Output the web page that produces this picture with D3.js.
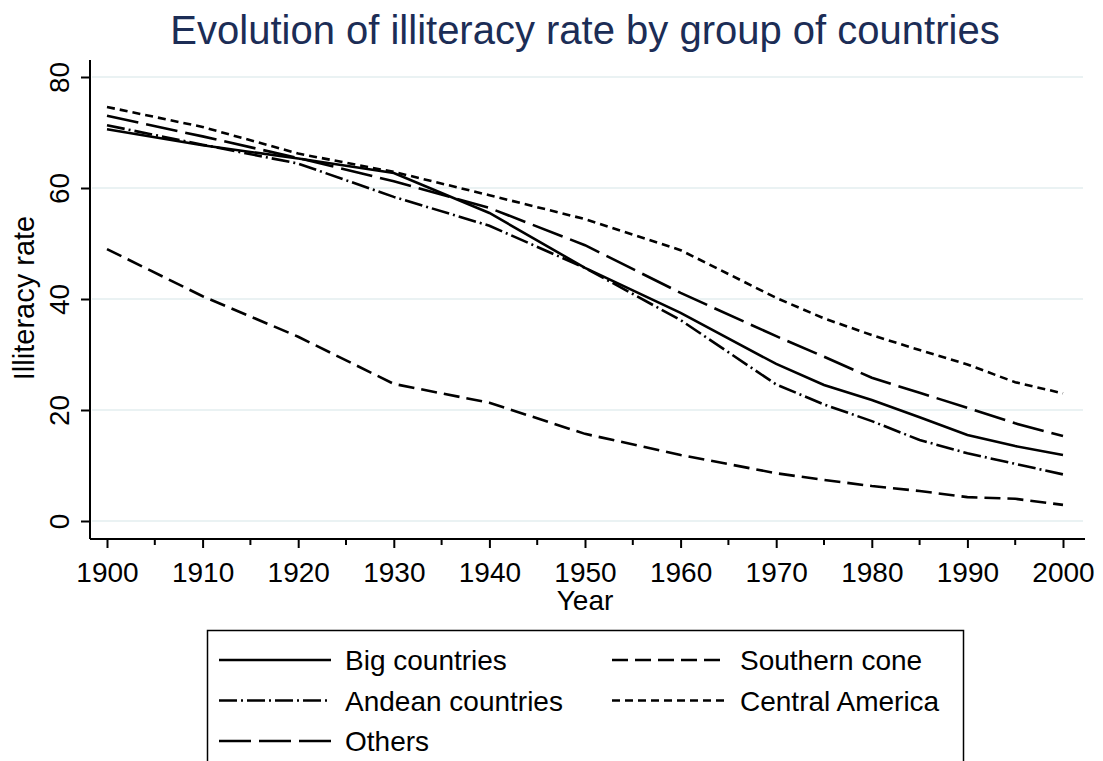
<!DOCTYPE html>
<html>
<head>
<meta charset="utf-8">
<script src="https://cdn.jsdelivr.net/npm/d3@7"></script>
<style>
  body { margin: 0; background: #fff; }
  svg { display: block; font-family: "Liberation Sans", Arial, sans-serif; }
</style>
</head>
<body>
<div id="chart"></div>
<script>
// data
const years = [1900, 1910, 1920, 1930, 1940, 1950, 1960, 1970, 1975, 1980, 1985, 1990, 1995, 2000];
const bigCountries = [70.6, 67.7, 65.3, 62.7, 55.5, 45.6, 37.5, 28.3, 24.5, 21.8, 18.7, 15.5, 13.5, 11.9];
const andeanCountries = [71.3, 67.8, 64.4, 58.4, 53.2, 45.6, 36.2, 24.6, 21.0, 18.0, 14.6, 12.2, 10.3, 8.4];
const others = [73.0, 69.3, 65.4, 61.2, 56.4, 49.7, 41.1, 33.3, 29.6, 25.8, 23.1, 20.4, 17.6, 15.3];
const southernCone = [49.0, 40.5, 33.2, 24.7, 21.3, 15.7, 11.9, 8.6, 7.4, 6.3, 5.4, 4.3, 4.0, 2.9];
const centralAmerica = [74.6, 71.0, 66.2, 62.9, 58.7, 54.4, 48.8, 40.2, 36.5, 33.5, 30.8, 28.2, 25.0, 23.0];
const xTicks = [1900, 1910, 1920, 1930, 1940, 1950, 1960, 1970, 1980, 1990, 2000];
const yTicks = [0, 20, 40, 60, 80];

const series = [
  { name: "Big countries", values: bigCountries, dash: null },
  { name: "Southern cone", values: southernCone, dash: "16,7" },
  { name: "Andean countries", values: andeanCountries, dash: "18,4,2,4" },
  { name: "Central America", values: centralAmerica, dash: "8,5" },
  { name: "Others", values: others, dash: "32,8" }
];

const width = 1103, height = 761;
const svg = d3.select("#chart").append("svg")
  .attr("width", width)
  .attr("height", height);

// scales
const x = d3.scaleLinear().domain([1900, 2000]).range([107, 1063]);
const y = d3.scaleLinear().domain([0, 80]).range([521, 77]);
const plotLeft = 90, plotRight = 1085, plotBottom = 539, plotTop = 60;

// title
svg.append("text")
  .attr("x", 585)
  .attr("y", 44)
  .attr("text-anchor", "middle")
  .attr("font-size", 40)
  .attr("fill", "#1c2d56")
  .text("Evolution of illiteracy rate by group of countries");

// gridlines
svg.append("g")
  .selectAll("line")
  .data(yTicks)
  .enter()
  .append("line")
  .attr("x1", plotLeft + 2)
  .attr("x2", plotRight - 2)
  .attr("y1", d => y(d))
  .attr("y2", d => y(d))
  .attr("stroke", "#eaf2f3")
  .attr("stroke-width", 2);

// y axis
const yAxis = svg.append("g")
  .attr("transform", `translate(${plotLeft},0)`)
  .call(d3.axisLeft(y).tickValues(yTicks).tickSize(9).tickSizeOuter(0));
yAxis.select(".domain").remove();
yAxis.append("line")
  .attr("x1", 0).attr("x2", 0)
  .attr("y1", plotTop).attr("y2", plotBottom)
  .attr("stroke", "#000").attr("stroke-width", 2);
yAxis.selectAll(".tick line").attr("stroke", "#000").attr("stroke-width", 2);
yAxis.selectAll(".tick text")
  .attr("font-size", 28)
  .attr("fill", "#000")
  .attr("text-anchor", "middle")
  .attr("dy", null)
  .attr("x", 0)
  .attr("y", 0)
  .attr("transform", "translate(-21,0) rotate(-90)");

// x axis
const xAxis = svg.append("g")
  .attr("transform", `translate(0,${plotBottom})`)
  .call(d3.axisBottom(x).tickValues(xTicks).tickFormat(d3.format("d")).tickSize(9).tickSizeOuter(0));
xAxis.select(".domain").remove();
xAxis.append("line")
  .attr("x1", plotLeft).attr("x2", plotRight)
  .attr("y1", 0).attr("y2", 0)
  .attr("stroke", "#000").attr("stroke-width", 2);
xAxis.selectAll(".tick line").attr("stroke", "#000").attr("stroke-width", 2);
xAxis.selectAll(".tick text")
  .attr("font-size", 28)
  .attr("fill", "#000")
  .attr("dy", null)
  .attr("y", 43);

// minor ticks every five years
svg.append("g")
  .selectAll("line")
  .data(d3.range(1905, 2000, 10))
  .enter()
  .append("line")
  .attr("x1", d => x(d)).attr("x2", d => x(d))
  .attr("y1", plotBottom).attr("y2", plotBottom + 6)
  .attr("stroke", "#000").attr("stroke-width", 2);

// axis titles
svg.append("text")
  .attr("x", 585)
  .attr("y", 610)
  .attr("text-anchor", "middle")
  .attr("font-size", 28)
  .text("Year");

svg.append("text")
  .attr("transform", "translate(34,298) rotate(-90)")
  .attr("text-anchor", "middle")
  .attr("font-size", 29)
  .text("Illiteracy rate");

// lines
const line = d3.line()
  .x((d, i) => x(years[i]))
  .y(d => y(d));

svg.append("g")
  .selectAll("path")
  .data(series)
  .enter()
  .append("path")
  .attr("d", d => line(d.values))
  .attr("fill", "none")
  .attr("stroke", "#000")
  .attr("stroke-width", 2.6)
  .attr("stroke-dasharray", d => d.dash);

// legend
const legend = svg.append("g");
legend.append("rect")
  .attr("x", 207.5)
  .attr("y", 630.5)
  .attr("width", 756)
  .attr("height", 150)
  .attr("fill", "none")
  .attr("stroke", "#000")
  .attr("stroke-width", 1.5);

const legendItems = legend.selectAll(".legend-item")
  .data(series)
  .enter()
  .append("g")
  .attr("class", "legend-item")
  .attr("transform", (d, i) => `translate(${i % 2 === 0 ? 219 : 612},${660 + Math.floor(i / 2) * 40.5})`);

legendItems.append("line")
  .attr("x1", 0).attr("x2", 112)
  .attr("y1", 0).attr("y2", 0)
  .attr("stroke", "#000")
  .attr("stroke-width", 2.6)
  .attr("stroke-dasharray", d => d.dash);

legendItems.append("text")
  .attr("x", (d, i) => i % 2 === 0 ? 126 : 128)
  .attr("y", 10)
  .attr("font-size", 28)
  .text(d => d.name);
</script>
</body>
</html>
